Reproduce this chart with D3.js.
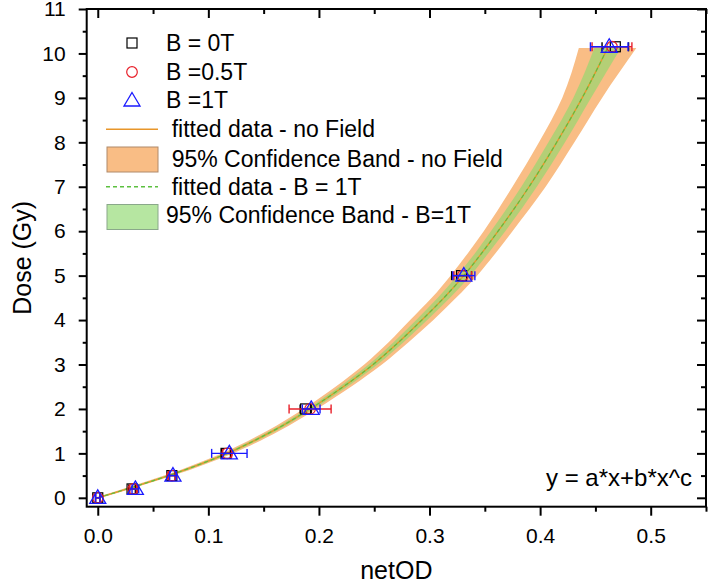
<!DOCTYPE html>
<html>
<head>
<meta charset="utf-8">
<script src="https://cdn.jsdelivr.net/npm/d3@7"></script>
<style>
  html, body { margin: 0; padding: 0; background: #fff; }
  svg { display: block; font-family: "Liberation Sans", Arial, sans-serif; }
</style>
</head>
<body>
<svg id="chart" width="709" height="584"></svg>
<script>
// ---------- data ----------
const doses      = [0, 0.2, 0.5, 1, 2, 5, 10.15];
const netOD_0T   = [0.000, 0.031, 0.067, 0.116, 0.188, 0.329, 0.468];
const err_0T     = [0.002, 0.003, 0.003, 0.004, 0.005, 0.009, 0.012];
const netOD_05T  = [0.000, 0.032, 0.067, 0.117, 0.192, 0.330, 0.465];
const err_05T    = [0.002, 0.003, 0.003, 0.004, 0.019, 0.008, 0.018];
const netOD_1T   = [0.000, 0.034, 0.068, 0.119, 0.193, 0.331, 0.4625];
const err_1T     = [0.002, 0.003, 0.003, 0.016, 0.008, 0.010, 0.017];

// fitted curve: dose vs netOD
const fitDose    = [0, 0.5, 1, 1.5, 2, 2.5, 3, 3.5, 4, 4.5, 5, 5.5, 6, 7, 8, 9, 10.12];
const fitNetOD   = [0, 0.064, 0.117, 0.158, 0.192, 0.222, 0.249, 0.272, 0.293, 0.313, 0.331, 0.347, 0.362, 0.390, 0.415, 0.438, 0.461];
// 95% confidence bands (half widths along netOD)
const bandOrangeHalf = [0.003, 0.004, 0.005, 0.0055, 0.006, 0.007, 0.008, 0.009, 0.0105, 0.011, 0.012, 0.0125, 0.013, 0.015, 0.016, 0.018, 0.026];
const bandGreenHalf  = [0.0015, 0.002, 0.0025, 0.0028, 0.003, 0.0035, 0.004, 0.0045, 0.005, 0.0055, 0.006, 0.006, 0.0065, 0.007, 0.0075, 0.008, 0.012];

const xTicks = [0, 0.1, 0.2, 0.3, 0.4, 0.5];
const yTicks = [0, 1, 2, 3, 4, 5, 6, 7, 8, 9, 10, 11];
const legendLabels = ["B = 0T", "B =0.5T", "B =1T", "fitted data - no Field",
  "95% Confidence Band - no Field", "fitted data - B = 1T", "95% Confidence Band - B=1T"];

// ---------- layout ----------
const svg = d3.select("#chart");
const L = 86.7, R = 706, T = 9, B = 506.7;
const x = d3.scaleLinear().domain([-0.01, 0.55]).range([L, R]);
const y = d3.scaleLinear().domain([-0.2, 11]).range([B, T]);

const cOrangeFill = "#f9bd85", cGreenFill = "#8fd86e";
const cOrangeLine = "#e8962a", cGreenLine = "#5cc040";

// bands
const fitRows = fitDose.map((d, i) => ({d, c: fitNetOD[i], o: bandOrangeHalf[i], g: bandGreenHalf[i]}));
const g = svg.append("g");
g.append("path").datum(fitRows)
  .attr("d", d3.area().curve(d3.curveMonotoneY).y(r => y(r.d)).x0(r => x(r.c - r.o)).x1(r => x(r.c + r.o)))
  .attr("fill", cOrangeFill);
g.append("path").datum(fitRows)
  .attr("d", d3.area().curve(d3.curveMonotoneY).y(r => y(r.d)).x0(r => x(r.c - r.g)).x1(r => x(r.c + r.g)))
  .attr("fill", cGreenFill).attr("fill-opacity", 0.65);
// fitted lines
const fitLine = d3.line().curve(d3.curveMonotoneY).x(r => x(r.c)).y(r => y(r.d));
g.append("path").datum(fitRows).attr("d", fitLine).attr("fill", "none")
  .attr("stroke", cOrangeLine).attr("stroke-width", 1.3);
g.append("path").datum(fitRows).attr("d", fitLine).attr("fill", "none")
  .attr("stroke", cGreenLine).attr("stroke-width", 1.2).attr("stroke-dasharray", "4,3");

// points + error bars
const series = [
  {v: netOD_0T,  e: err_0T,  color: "#000", shape: "square"},
  {v: netOD_05T, e: err_05T, color: "#e8202a", shape: "circle"},
  {v: netOD_1T,  e: err_1T,  color: "#1a1aff", shape: "triangle"}
];
function drawMarker(sel, shape, color, cx, cy) {
  if (shape === "square") {
    sel.append("rect").attr("x", cx - 5).attr("y", cy - 5).attr("width", 10).attr("height", 10)
      .attr("fill", "none").attr("stroke", color).attr("stroke-width", 1.2);
  } else if (shape === "circle") {
    sel.append("circle").attr("cx", cx).attr("cy", cy).attr("r", 5.3)
      .attr("fill", "none").attr("stroke", color).attr("stroke-width", 1.2);
  } else {
    sel.append("path").attr("d", `M${cx},${cy - 8}L${cx + 8},${cy + 5.5}L${cx - 8},${cy + 5.5}Z`)
      .attr("fill", "none").attr("stroke", color).attr("stroke-width", 1.3);
  }
}
series.forEach(s => {
  const sg = svg.append("g");
  doses.forEach((d, i) => {
    const cy = y(d), x0 = x(s.v[i] - s.e[i]), x1 = x(s.v[i] + s.e[i]);
    sg.append("line").attr("x1", x0).attr("x2", x1).attr("y1", cy).attr("y2", cy)
      .attr("stroke", s.color).attr("stroke-width", 1.4);
    [x0, x1].forEach(xx => sg.append("line").attr("x1", xx).attr("x2", xx)
      .attr("y1", cy - 4.5).attr("y2", cy + 4.5).attr("stroke", s.color).attr("stroke-width", 1.4));
    drawMarker(sg, s.shape, s.color, x(s.v[i]), cy);
  });
});

// ---------- axes ----------
const xMinor = d3.range(0, 0.551, 0.05).filter(v => Math.abs(v * 10 - Math.round(v * 10)) > 1e-6);
const yMinor = d3.range(0.5, 11, 1);
function styleAxis(sel, fs) {
  sel.select(".domain").remove();
  sel.selectAll(".tick line").attr("stroke", "#000").attr("stroke-width", 2);
  sel.selectAll("text").attr("font-size", fs).attr("fill", "#000")
    .attr("font-family", "'Liberation Sans', Arial, sans-serif");
}
const fs = 21;
styleAxis(svg.append("g").attr("transform", `translate(0,${B})`)
  .call(d3.axisBottom(x).tickValues(xTicks).tickSize(9).tickPadding(12).tickFormat(d3.format(".1f"))), fs);
styleAxis(svg.append("g").attr("transform", `translate(0,${B})`)
  .call(d3.axisBottom(x).tickValues(xMinor).tickSize(5).tickFormat("")), fs);
styleAxis(svg.append("g").attr("transform", `translate(${L},0)`)
  .call(d3.axisLeft(y).tickValues(yTicks).tickSize(8).tickPadding(13).tickFormat(d3.format("d"))), fs);
styleAxis(svg.append("g").attr("transform", `translate(${L},0)`)
  .call(d3.axisLeft(y).tickValues(yMinor).tickSize(4).tickFormat("")), fs);
styleAxis(svg.append("g").attr("transform", `translate(0,${T})`)
  .call(d3.axisTop(x).tickValues(xTicks).tickSize(-9).tickFormat("")), fs);
styleAxis(svg.append("g").attr("transform", `translate(0,${T})`)
  .call(d3.axisTop(x).tickValues(xMinor).tickSize(-5).tickFormat("")), fs);
styleAxis(svg.append("g").attr("transform", `translate(${R},0)`)
  .call(d3.axisRight(y).tickValues(yTicks).tickSize(-9).tickFormat("")), fs);
styleAxis(svg.append("g").attr("transform", `translate(${R},0)`)
  .call(d3.axisRight(y).tickValues(yMinor).tickSize(-5).tickFormat("")), fs);

svg.append("rect").attr("x", L).attr("y", T).attr("width", R - L).attr("height", B - T)
  .attr("fill", "none").attr("stroke", "#000").attr("stroke-width", 2);

// axis titles
svg.append("text").attr("x", (L + R) / 2).attr("y", 579).attr("text-anchor", "middle")
  .attr("font-size", 25).text("netOD");
svg.append("text").attr("transform", `translate(31,${(T + B) / 2}) rotate(-90)`)
  .attr("text-anchor", "middle").attr("font-size", 25).text("Dose (Gy)");

// equation
svg.append("text").attr("x", 692).attr("y", 486).attr("text-anchor", "end")
  .attr("font-size", 24).text("y = a*x+b*x^c");

// ---------- legend ----------
const lg = svg.append("g").attr("font-size", 23);
const rowBase = [51, 80, 108.3, 137.3, 166.7, 195, 223.3];
const textX = [166, 166, 166, 171.7, 171.7, 171.7, 166];
drawMarker(lg, "square", "#000", 132, 43);
drawMarker(lg, "circle", "#e8202a", 132, 72);
drawMarker(lg, "triangle", "#1a1aff", 132, 100.5);
lg.append("line").attr("x1", 106).attr("x2", 158).attr("y1", 129.3).attr("y2", 129.3)
  .attr("stroke", cOrangeLine).attr("stroke-width", 1.5);
lg.append("rect").attr("x", 107).attr("y", 147).attr("width", 51).attr("height", 25)
  .attr("fill", cOrangeFill).attr("stroke", "#b08a6a").attr("stroke-width", 1);
lg.append("line").attr("x1", 106).attr("x2", 158).attr("y1", 186.7).attr("y2", 186.7)
  .attr("stroke", cGreenLine).attr("stroke-width", 1.5).attr("stroke-dasharray", "4,3");
lg.append("rect").attr("x", 107).attr("y", 204.5).attr("width", 51).attr("height", 25)
  .attr("fill", cGreenFill).attr("fill-opacity", 0.65).attr("stroke", "#8aa88a").attr("stroke-width", 1);
legendLabels.forEach((t, i) => {
  lg.append("text").attr("x", textX[i]).attr("y", rowBase[i]).attr("fill", "#000").text(t);
});
</script>
</body>
</html>
